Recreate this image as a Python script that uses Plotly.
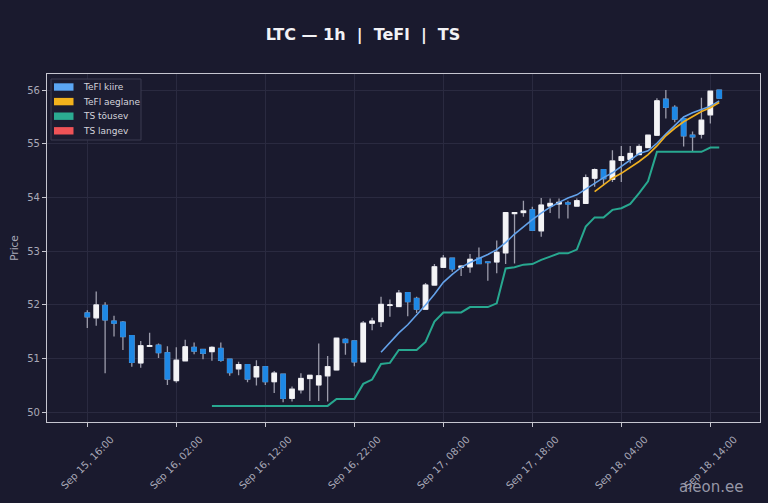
import pandas as pd
import plotly.graph_objects as go

# hourly LTC candles, Sep 15 16:00 -> Sep 18 15:00
start = "2024-09-15 16:00"
n_bars = 72

opens = [51.85, 51.76, 51.99, 51.70, 51.68, 51.43, 50.92, 51.23, 51.25, 51.11,
         50.59, 50.96, 51.21, 51.17, 51.13, 51.19, 50.99, 50.81, 50.89, 50.66,
         50.85, 50.57, 50.71, 50.26, 50.42, 50.63, 50.51, 50.68, 50.79, 51.36,
         51.33, 50.94, 51.66, 51.69, 51.99, 51.97, 52.23, 52.12, 51.92, 52.37,
         52.70, 52.87, 52.70, 52.71, 52.87, 52.80, 52.80, 52.97, 53.70, 53.72,
         53.77, 53.38, 53.84, 53.88, 53.90, 53.84, 53.89, 54.36, 54.52, 54.34,
         54.69, 54.71, 54.80, 54.93, 55.16, 55.83, 55.68, 55.47, 55.16, 55.18,
         55.54, 56.00]
highs = [51.90, 52.25, 52.05, 51.80, 51.70, 51.44, 51.33, 51.48, 51.28, 51.23,
         51.21, 51.35, 51.30, 51.18, 51.23, 51.30, 51.00, 50.94, 50.90, 50.97,
         50.86, 50.77, 50.72, 50.48, 50.73, 50.70, 51.28, 51.05, 51.39, 51.38,
         51.34, 51.70, 51.76, 52.15, 52.10, 52.28, 52.24, 52.15, 52.41, 52.76,
         52.93, 52.88, 52.74, 52.95, 53.07, 52.81, 53.20, 53.73, 53.73, 53.94,
         53.83, 53.99, 53.98, 53.98, 53.94, 53.98, 54.43, 54.54, 54.53, 54.88,
         54.96, 54.96, 54.99, 55.17, 55.85, 56.00, 55.72, 55.48, 55.23, 55.86,
         55.99, 56.01]
lows = [51.57, 51.61, 50.73, 51.41, 51.16, 50.85, 50.83, 51.23, 51.01, 50.51,
        50.55, 50.95, 51.08, 50.99, 50.96, 50.94, 50.68, 50.69, 50.56, 50.50,
        50.51, 50.36, 50.19, 50.20, 50.35, 50.21, 50.21, 50.20, 50.79, 51.07,
        50.86, 50.93, 51.53, 51.59, 51.78, 51.96, 51.79, 51.85, 51.91, 52.36,
        52.69, 52.62, 52.54, 52.60, 52.76, 52.45, 52.59, 52.76, 52.77, 53.64,
        53.38, 53.27, 53.71, 53.61, 53.61, 53.83, 53.88, 54.20, 54.23, 54.29,
        54.29, 54.64, 54.79, 54.92, 55.15, 55.47, 55.40, 54.95, 54.85, 55.10,
        55.38, 55.84]
closes = [51.78, 52.00, 51.72, 51.66, 51.41, 50.93, 51.24, 51.24, 51.11, 50.62,
          50.97, 51.22, 51.14, 51.10, 51.21, 50.97, 50.74, 50.89, 50.62, 50.85,
          50.57, 50.73, 50.26, 50.43, 50.63, 50.69, 50.68, 50.85, 51.38, 51.30,
          50.94, 51.66, 51.70, 52.01, 52.00, 52.22, 52.06, 51.92, 52.37, 52.71,
          52.87, 52.67, 52.72, 52.85, 52.77, 52.79, 52.98, 53.72, 53.72, 53.75,
          53.39, 53.86, 53.89, 53.91, 53.88, 53.94, 54.37, 54.52, 54.35, 54.68,
          54.76, 54.82, 54.95, 55.16, 55.80, 55.68, 55.46, 55.15, 55.13, 55.44,
          55.98, 55.85]

# TeFl fast line (from bar 33), TeFl slow line (from bar 57)
tefl_fast = [None] * 33 + [
    51.12, 51.31, 51.48, 51.63, 51.81, 52.00, 52.20, 52.42, 52.57, 52.70,
    52.79, 52.86, 52.94, 53.03, 53.16, 53.32, 53.46, 53.59, 53.71, 53.82,
    53.91, 53.99, 54.05, 54.16, 54.27, 54.37, 54.46, 54.58, 54.71, 54.82,
    54.87, 55.01, 55.18, 55.35, 55.50, 55.58, 55.64, 55.70, 55.80]
tefl_slow = [None] * 57 + [
    54.11, 54.23, 54.36, 54.45, 54.56, 54.67, 54.80, 54.96, 55.15, 55.29,
    55.41, 55.51, 55.60, 55.67, 55.77]

# TS trailing stop, rising (from bar 14); falling has no values in view
ts_up = [None] * 14 + [
    50.12, 50.12, 50.12, 50.12, 50.12, 50.12, 50.12, 50.12, 50.12, 50.12,
    50.12, 50.12, 50.12, 50.12, 50.25, 50.25, 50.25, 50.53, 50.61, 50.90,
    50.92, 51.16, 51.16, 51.16, 51.31, 51.69, 51.86, 51.86, 51.86, 51.96,
    51.96, 51.96, 52.03, 52.68, 52.70, 52.75, 52.76, 52.84, 52.90, 52.96,
    52.96, 53.03, 53.46, 53.63, 53.63, 53.77, 53.80, 53.88, 54.08, 54.30,
    54.85, 54.85, 54.85, 54.85, 54.85, 54.85, 54.93, 54.93]
ts_down = [None] * n_bars

legend_names = ["TeFl kiire", "TeFl aeglane", "TS tõusev", "TS langev"]
legend_colors = ["#5ba6f3", "#f2b21c", "#2bab91", "#ef5357"]
line_colors = ["#64a2ea", "#f0b020", "#28a890", "#ef5357"]
line_widths = [1.6, 1.7, 2.0, 2.0]

times = pd.date_range(start, periods=n_bars, freq="h")
tick_times = pd.date_range(start, periods=8, freq="10h")

BG = "#1a1a2e"
UP = "#f4f4f6"
DOWN = "#1e88e5"
WICK = "#9c9cab"
AXC = "#c6c6d0"
TXT = "#a9a9b8"

fig = go.Figure()

# wicks + bodies
fig.add_trace(go.Candlestick(
    x=times, open=opens, high=highs, low=lows, close=closes,
    increasing=dict(line=dict(color=WICK, width=1.3), fillcolor=UP),
    decreasing=dict(line=dict(color=WICK, width=1.3), fillcolor=DOWN),
    showlegend=False, hoverinfo="skip",
))
# body-only overlay so bodies keep their own colour
body_hi = [max(o, c) for o, c in zip(opens, closes)]
body_lo = [min(o, c) for o, c in zip(opens, closes)]
fig.add_trace(go.Candlestick(
    x=times, open=opens, high=body_hi, low=body_lo, close=closes,
    increasing=dict(line=dict(color=UP, width=1), fillcolor=UP),
    decreasing=dict(line=dict(color=DOWN, width=1), fillcolor=DOWN),
    showlegend=False, hoverinfo="skip",
))

for name, vals, col, w in zip(legend_names, [tefl_fast, tefl_slow, ts_up, ts_down],
                              line_colors, line_widths):
    fig.add_trace(go.Scatter(
        x=times, y=vals, mode="lines", name=name,
        line=dict(color=col, width=w), connectgaps=False,
        showlegend=False, hoverinfo="skip",
    ))

# plot area in pixels (768x503 window)
L, R, T, B = 47, 760, 74, 422


def px(xp):
    return (xp - L) / (R - L)


def py(yp):
    return (B - yp) / (B - T)


# matplotlib-like legend box with colour patches
shapes = [dict(type="rect", xref="paper", yref="paper",
               x0=px(51), x1=px(141), y0=py(140), y1=py(79),
               line=dict(color="#3a3a50", width=1), fillcolor="#1c1c30")]
annotations = []
for i, (name, col) in enumerate(zip(legend_names, legend_colors)):
    yc = 87 + 14.6 * i
    shapes.append(dict(type="rect", xref="paper", yref="paper",
                       x0=px(54), x1=px(73.5), y0=py(yc + 3.7), y1=py(yc - 3.7),
                       line=dict(width=0), fillcolor=col))
    annotations.append(dict(xref="paper", yref="paper", x=px(80.5), y=py(yc),
                            text=name, showarrow=False, xanchor="left", yanchor="middle",
                            font=dict(size=9, color="#d4d4dc")))

# rotated date labels centred under the ticks (matplotlib style)
for t in tick_times:
    annotations.append(dict(xref="x", yref="paper", x=t, y=py(462),
                            text=t.strftime("%b %d, %H:%M"), showarrow=False,
                            textangle=-45, xanchor="center", yanchor="middle",
                            font=dict(size=10, color=TXT)))

annotations.append(dict(xref="paper", yref="paper", x=px(746), y=py(487),
                        text="aieon.ee", showarrow=False, xanchor="right", yanchor="middle",
                        font=dict(size=15, color="#9696a6")))

x0 = times[0] - pd.Timedelta(hours=4.53)
x1 = times[-1] + pd.Timedelta(hours=4.58)

fig.update_layout(
    width=768, height=503,
    margin=dict(l=L, r=768 - R, t=T, b=503 - B),
    paper_bgcolor=BG, plot_bgcolor=BG,
    font=dict(family="DejaVu Sans", color=TXT, size=10),
    title=dict(text="LTC — 1h\u00a0\u00a0|\u00a0\u00a0TeFl\u00a0\u00a0|\u00a0\u00a0TS",
               x=363 / 768, xref="container", xanchor="center",
               y=1 - 34 / 503, yref="container", yanchor="middle",
               font=dict(family="DejaVu Sans", size=16, color="#f2f2f5", weight="bold")),
    shapes=shapes, annotations=annotations,
    showlegend=False,
    hovermode=False,
    boxgap=0.28,
)
fig.update_xaxes(
    range=[x0, x1], rangeslider_visible=False,
    tickvals=tick_times, showticklabels=False,
    ticks="outside", ticklen=4, tickcolor=AXC,
    showline=True, linecolor=AXC, linewidth=1.2, mirror=True,
    showgrid=True, gridcolor="#2a2a40", gridwidth=1,
)
fig.update_yaxes(
    range=[49.82, 56.30], dtick=1,
    ticks="outside", ticklen=4, tickcolor=AXC,
    showline=True, linecolor=AXC, linewidth=1.2, mirror=True,
    showgrid=True, gridcolor="#2a2a40", gridwidth=1, zeroline=False,
    tickfont=dict(size=10, color=TXT),
    title=dict(text="Price", standoff=6, font=dict(size=10.5, color=TXT)),
)

fig.write_html("out.html", config={"displayModeBar": False},
               post_script="document.body.style.margin='0px';")
